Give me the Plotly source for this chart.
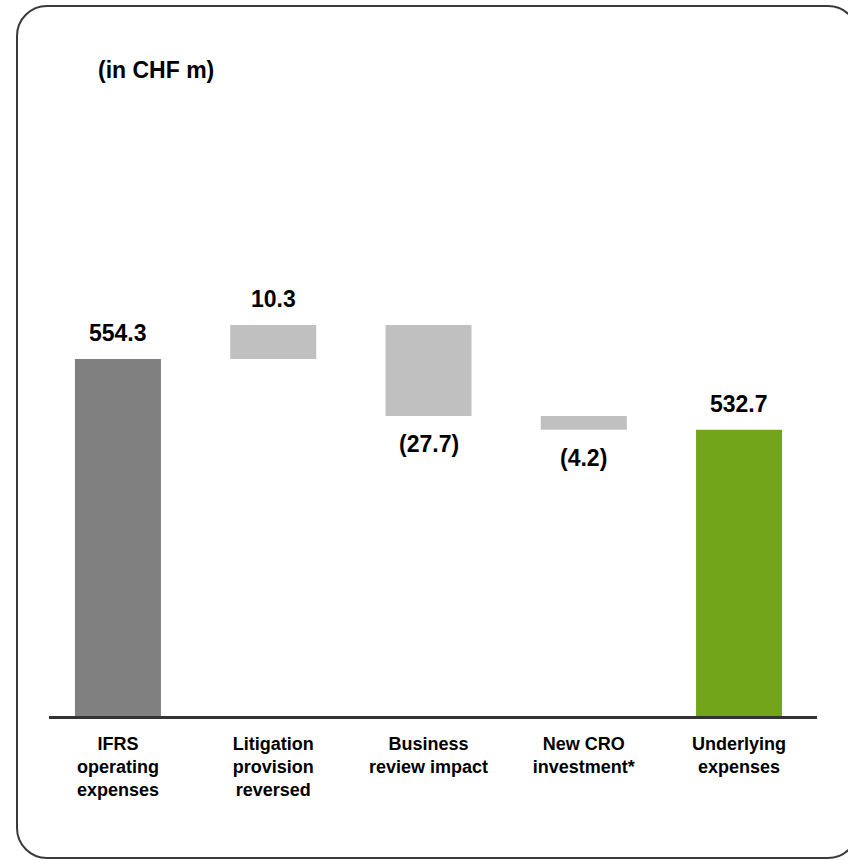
import plotly.graph_objects as go

# ---- data ----
categories = ["IFRS<br>operating<br>expenses", "Litigation<br>provision<br>reversed",
              "Business<br>review impact", "New CRO<br>investment*", "Underlying<br>expenses"]
measures = ["absolute", "relative", "relative", "relative", "total"]
values = [554.3, 10.3, -27.7, -4.2, 532.7]
value_labels = ["554.3", "10.3", "(27.7)", "(4.2)", "532.7"]
bar_colors = ["#808080", "#c0c0c0", "#c0c0c0", "#c0c0c0", "#73a51b"]
unit_label = "(in CHF m)"

# ---- derived waterfall geometry (from data) ----
bases, heights = [], []
running = 0.0
for m, v in zip(measures, values):
    if m == "absolute":
        running = v
        bases.append(0); heights.append(v)
    elif m == "relative":
        bases.append(running); heights.append(v)
        running += v
    else:
        bases.append(0); heights.append(v)
        running = v

W, H = 848, 860
PL, PR, PT, PB = 49, 817, 100, 716
FONT = "Liberation Sans, Arial, sans-serif"

def pxx(x):
    return (x - PL) / (PR - PL)

def pxy(y):
    return (PB - y) / (PB - PT)

fig = go.Figure()
fig.add_trace(go.Bar(
    x=list(range(len(categories))), y=heights, base=bases,
    marker=dict(color=bar_colors, line=dict(width=0)),
    width=0.554, hoverinfo="skip",
))

annotations = []
for i, (lab, b, h) in enumerate(zip(value_labels, bases, heights)):
    end = b + h
    up = h > 0
    annotations.append(dict(
        x=i, y=end, xref="x", yref="y", text=lab, showarrow=False,
        yanchor="middle", xanchor="center", yshift=26 if up else -28,
        font=dict(family=FONT, size=23, color="#000000", weight="bold"),
    ))
annotations.append(dict(
    x=pxx(96), y=pxy(70), xref="paper", yref="paper", text=unit_label,
    showarrow=False, xanchor="left", yanchor="middle",
    font=dict(family=FONT, size=23, color="#000000", weight="bold"),
))

# rounded frame (screen pixel coords); right edge lies beyond the visible area
x0, x1, y0, y1, r = 17, 858, 6, 858, 30
k = 0.5523 * r
def P(x, y):
    return f"{pxx(x)},{pxy(y)}"
path = (f"M {P(x0 + r, y0)} L {P(x1 - r, y0)} "
        f"C {P(x1 - r + k, y0)} {P(x1, y0 + r - k)} {P(x1, y0 + r)} "
        f"L {P(x1, y1 - r)} "
        f"C {P(x1, y1 - r + k)} {P(x1 - r + k, y1)} {P(x1 - r, y1)} "
        f"L {P(x0 + r, y1)} "
        f"C {P(x0 + r - k, y1)} {P(x0, y1 - r + k)} {P(x0, y1 - r)} "
        f"L {P(x0, y0 + r)} "
        f"C {P(x0, y0 + r - k)} {P(x0 + r - k, y0)} {P(x0 + r, y0)} Z")

fig.update_layout(
    width=W, height=H,
    margin=dict(l=PL, r=W - PR, t=PT, b=H - PB, pad=0),
    paper_bgcolor="white", plot_bgcolor="white",
    showlegend=False,
    annotations=annotations,
    shapes=[dict(type="path", path=path, xref="paper", yref="paper",
                 line=dict(color="#3a3a3a", width=2), fillcolor="rgba(0,0,0,0)",
                 layer="above")],
    xaxis=dict(
        range=[-0.444, 4.502], tickmode="array",
        tickvals=list(range(len(categories))), ticktext=categories,
        showline=True, linecolor="#333333", linewidth=3,
        showgrid=False, zeroline=False, ticks="", ticklabelstandoff=9,
        tickfont=dict(family=FONT, size=18, color="#000000", weight="bold"),
        fixedrange=True,
    ),
    yaxis=dict(range=[445.6, 633.1], visible=False, showgrid=False,
               zeroline=False, fixedrange=True),
)

fig.write_html(
    "out.html",
    config={"displayModeBar": False, "staticPlot": True},
    post_script="document.body.style.margin='0px';document.body.style.overflow='hidden';",
)
